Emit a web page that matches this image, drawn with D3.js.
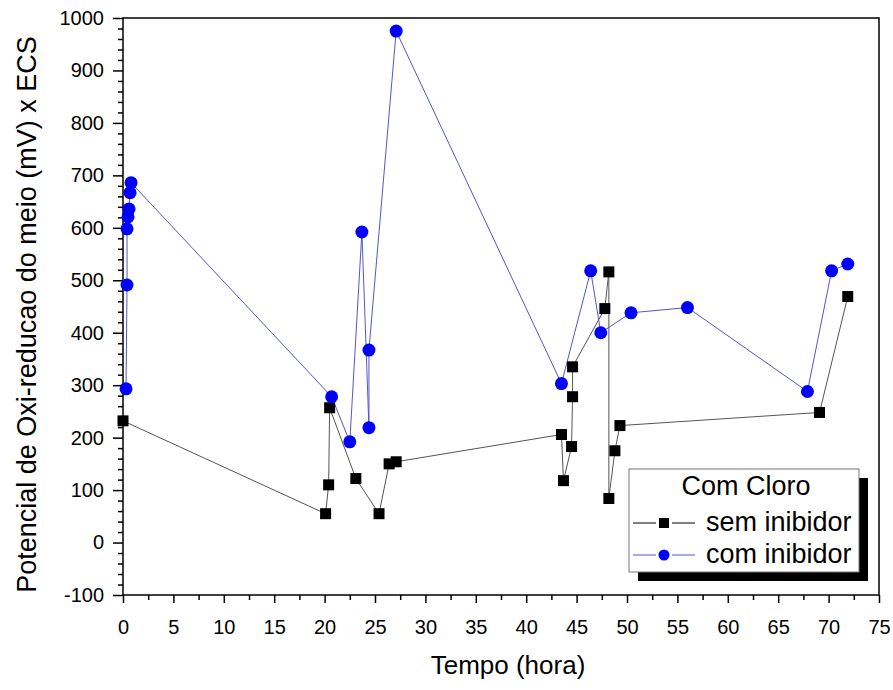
<!DOCTYPE html>
<html>
<head>
<meta charset="utf-8">
<script src="https://cdn.jsdelivr.net/npm/d3@7"></script>
<style>
  body { margin: 0; background: #fff; }
  text { font-family: "Liberation Sans", Arial, sans-serif; }
</style>
</head>
<body>
<div id="chart"></div>
<script>
// Series (hours, mV)
const semTime = [0, 20.1, 20.4, 20.5, 23.1, 25.4, 26.4, 27.1, 43.5, 43.7, 44.5, 44.6, 44.6, 47.8, 48.2, 48.2, 48.8, 49.3, 69.1, 71.9];
const semValue = [232, 55, 110, 257, 122, 55, 150, 154, 206, 118, 183, 278, 335, 446, 516, 84, 175, 223, 248, 469];

const comTime = [0.3, 0.4, 0.4, 0.5, 0.6, 0.7, 0.8, 20.7, 22.5, 23.7, 24.4, 24.4, 27.1, 43.5, 46.4, 47.4, 50.4, 56.0, 67.9, 70.3, 71.9];
const comValue = [293, 491, 598, 621, 636, 667, 686, 278, 192, 592, 219, 367, 975, 303, 518, 400, 438, 448, 288, 518, 531];

const xTicks = d3.range(0, 76, 5);
const yTicks = d3.range(-100, 1001, 100);

const legendTitle = "Com Cloro";
const seriesNames = ["sem inibidor", "com inibidor"];

const W = 893, H = 690;
const margin = { top: 18, right: 14, bottom: 95, left: 123 };
const width = W - margin.left - margin.right;
const height = H - margin.top - margin.bottom;

const svg = d3.select("#chart").append("svg")
    .attr("width", W)
    .attr("height", H);

const g = svg.append("g")
    .attr("transform", `translate(${margin.left},${margin.top})`);

const x = d3.scaleLinear().domain([0, 75]).range([0, width]);
const y = d3.scaleLinear().domain([-100, 1000]).range([height, 0]);

// frame
g.append("rect")
    .attr("width", width)
    .attr("height", height)
    .attr("fill", "none")
    .attr("stroke", "#000")
    .attr("stroke-width", 1.5);

// x axis
const xMinor = g.append("g")
    .attr("transform", `translate(0,${height})`)
    .call(d3.axisBottom(x).tickValues(d3.range(2.5, 75, 5)).tickSize(5).tickFormat(""));
const xAxis = g.append("g")
    .attr("transform", `translate(0,${height})`)
    .call(d3.axisBottom(x).tickValues(xTicks).tickSize(8).tickPadding(17).tickFormat(d => String(d)));

// y axis
const yMinor = g.append("g")
    .call(d3.axisLeft(y).tickValues(d3.range(-100, 1001, 20).filter(v => v % 100 !== 0)).tickSize(5).tickFormat(""));
const yAxis = g.append("g")
    .call(d3.axisLeft(y).tickValues(yTicks).tickSize(10).tickPadding(9).tickFormat(d => String(d)));

[xMinor, xAxis, yMinor, yAxis].forEach(a => {
    a.select(".domain").remove();
    a.attr("font-family", null).attr("font-size", null);
    a.selectAll("line").attr("stroke", "#000").attr("stroke-width", 1.5);
});
xAxis.selectAll("text").attr("font-size", 20).attr("fill", "#000");
yAxis.selectAll("text").attr("font-size", 20).attr("fill", "#000");

// axis titles
svg.append("text")
    .attr("x", 508)
    .attr("y", 674)
    .attr("text-anchor", "middle")
    .attr("font-size", 26)
    .text("Tempo (hora)");

svg.append("text")
    .attr("transform", `translate(36,${margin.top + height / 2 + 8}) rotate(-90)`)
    .attr("text-anchor", "middle")
    .attr("font-size", 27)
    .text("Potencial de Oxi-reducao do meio (mV) x ECS");

// lines
const semData = semTime.map((t, i) => ({ t, v: semValue[i] }));
const comData = comTime.map((t, i) => ({ t, v: comValue[i] }));

const line = d3.line().x(d => x(d.t)).y(d => y(d.v));

g.append("path")
    .datum(semData)
    .attr("d", line)
    .attr("fill", "none")
    .attr("stroke", "#555")
    .attr("stroke-width", 1);

g.append("path")
    .datum(comData)
    .attr("d", line)
    .attr("fill", "none")
    .attr("stroke", "#5555cc")
    .attr("stroke-width", 1);

// markers
const sq = 11;
g.selectAll(".sem")
    .data(semData)
    .enter().append("rect")
    .attr("class", "sem")
    .attr("x", d => x(d.t) - sq / 2)
    .attr("y", d => y(d.v) - sq / 2)
    .attr("width", sq)
    .attr("height", sq)
    .attr("fill", "#000");

g.selectAll(".com")
    .data(comData)
    .enter().append("circle")
    .attr("class", "com")
    .attr("cx", d => x(d.t))
    .attr("cy", d => y(d.v))
    .attr("r", 6.5)
    .attr("fill", "#0000ff");

// legend
const lg = svg.append("g").attr("transform", "translate(629,469)");
lg.append("rect")
    .attr("x", 9).attr("y", 9)
    .attr("width", 230).attr("height", 103)
    .attr("fill", "#000");
lg.append("rect")
    .attr("width", 230).attr("height", 103)
    .attr("fill", "#fff")
    .attr("stroke", "#777")
    .attr("stroke-width", 1);
lg.append("text")
    .attr("x", 117).attr("y", 26)
    .attr("text-anchor", "middle")
    .attr("font-size", 27)
    .text(legendTitle);

seriesNames.forEach((name, i) => {
    const yy = 54 + i * 32;
    const col = i === 0 ? "#000" : "#5555cc";
    [[4, 27], [43, 66]].forEach(([a, b]) => {
        lg.append("line")
            .attr("x1", a).attr("x2", b)
            .attr("y1", yy).attr("y2", yy)
            .attr("stroke", col).attr("stroke-width", 1);
    });
    if (i === 0) {
        lg.append("rect")
            .attr("x", 35 - 5).attr("y", yy - 5)
            .attr("width", 10).attr("height", 10)
            .attr("fill", "#000");
    } else {
        lg.append("circle")
            .attr("cx", 35).attr("cy", yy)
            .attr("r", 5.5)
            .attr("fill", "#0000ff");
    }
    lg.append("text")
        .attr("x", 77).attr("y", yy + 8)
        .attr("font-size", 27)
        .text(name);
});
</script>
</body>
</html>
